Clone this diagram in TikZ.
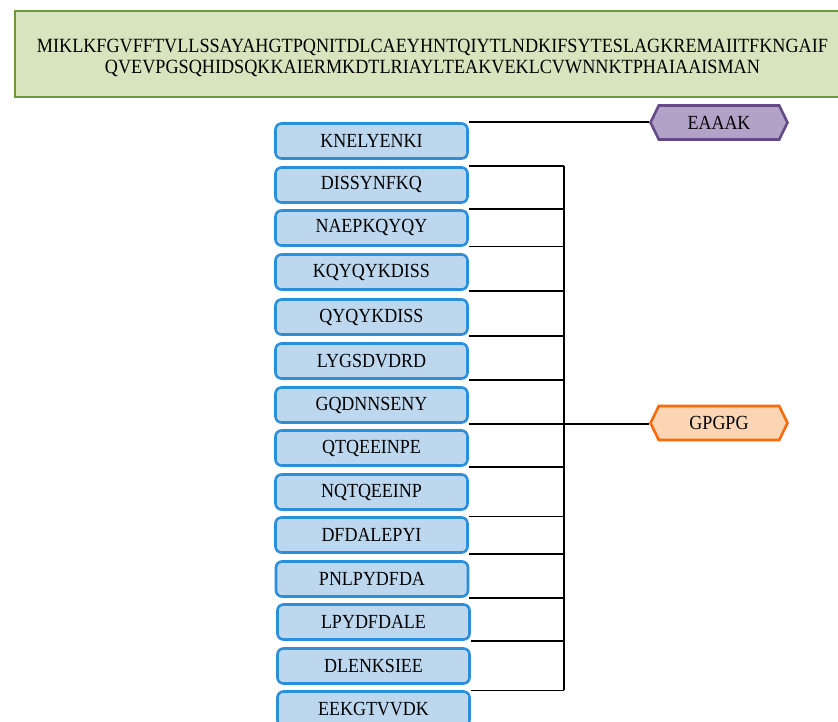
\documentclass[tikz,border=0pt]{standalone}
\usepackage{fontspec}
\setmainfont{Liberation Serif}
\newfontfamily\narrowserif[FakeStretch=0.9]{Liberation Serif}
\usetikzlibrary{shapes.symbols,calc}
\definecolor{topfill}{HTML}{D7E4BD}
\definecolor{topdraw}{HTML}{6E9A3C}
\definecolor{pepfill}{HTML}{BDD7EE}
\definecolor{pepdraw}{HTML}{2B8FDB}
\definecolor{efill}{HTML}{B3A2C7}
\definecolor{edraw}{HTML}{654A87}
\definecolor{gfill}{HTML}{FCD5B5}
\definecolor{gdraw}{HTML}{F86A0A}
\tikzset{
  x=1pt,y=-1pt,
  seqbox/.style={draw=topdraw,fill=topfill,line width=2.6pt,minimum width=835pt,minimum height=86pt,inner sep=0pt},
  seqtext/.style={inner sep=0pt,align=center,font=\narrowserif\fontsize{20.2}{21}\selectfont},
  pep/.style={draw=pepdraw,fill=pepfill,line width=2.6pt,rounded corners=6pt,minimum width=192pt,minimum height=35pt,inner sep=0pt,font=\narrowserif\fontsize{20}{22}\selectfont},
  linker/.style={signal,signal to=west and east,signal pointer angle=128,line width=2.6pt,minimum width=137pt,minimum height=34pt,inner sep=0pt,font=\narrowserif\fontsize{20}{22}\selectfont},
  conn/.style={line width=1.4pt,black}
}
\begin{document}
\begin{tikzpicture}
\useasboundingbox (0,0) rectangle (838,722);
\fill[white] (0,0) rectangle (838,722);
\begin{scope}
\clip (0,0) rectangle (838,722);
\node[seqbox] (seq) at (432.5,54) {};
\node[seqtext] (seqtxt) at ([yshift=-3.5pt]seq.center) {MIKLKFGVFFTVLLSSAYAHGTPQNITDLCAEYHNTQIYTLNDKIFSYTESLAGKREMAIITFKNGAIF\\QVEVPGSQHIDSQKKAIERMKDTLRIAYLTEAKVEKLCVWNNKTPHAIAAISMAN};
\end{scope}
\node[pep] (b1) at (371.5,141) {KNELYENKI};
\node[pep] (b2) at (371.5,185) {DISSYNFKQ};
\node[pep] (b3) at (371.5,228) {NAEPKQYQY};
\node[pep] (b4) at (371.5,272) {KQYQYKDISS};
\node[pep] (b5) at (371.5,317) {QYQYKDISS};
\node[pep] (b6) at (371.5,361) {LYGSDVDRD};
\node[pep] (b7) at (371.5,405) {GQDNNSENY};
\node[pep] (b8) at (371.5,448) {QTQEEINPE};
\node[pep] (b9) at (371.5,492) {NQTQEEINP};
\node[pep] (b10) at (371.5,535) {DFDALEPYI};
\node[pep] (b11) at (372,579) {PNLPYDFDA};
\node[pep] (b12) at (373.5,622) {LPYDFDALE};
\node[pep] (b13) at (373.5,666) {DLENKSIEE};
\node[pep] (b14) at (373.5,709) {EEKGTVVDK};
\node[linker,draw=edraw,fill=efill] (eaaak) at (719,122.5) {EAAAK};
\node[linker,draw=gdraw,fill=gfill] (gpgpg) at (719,423) {GPGPG};
\coordinate (bus) at (564,0);
\draw[conn] (b1.north east) -- (b1.north east -| eaaak.west);
\draw[conn] (b7.south east) -- (b7.south east -| gpgpg.west);
\draw[conn] (bus |- b2.north east) -- (bus |- b14.north east);
\foreach \a in {b2.north east,b3.north east,b3.south east,b4.south east,b5.south east,b6.south east,b8.south east,b10.north east,b10.south east,b11.south east,b12.south east,b14.north east}
  \draw[conn] (\a) -- (\a -| bus);
\end{tikzpicture}
\end{document}
